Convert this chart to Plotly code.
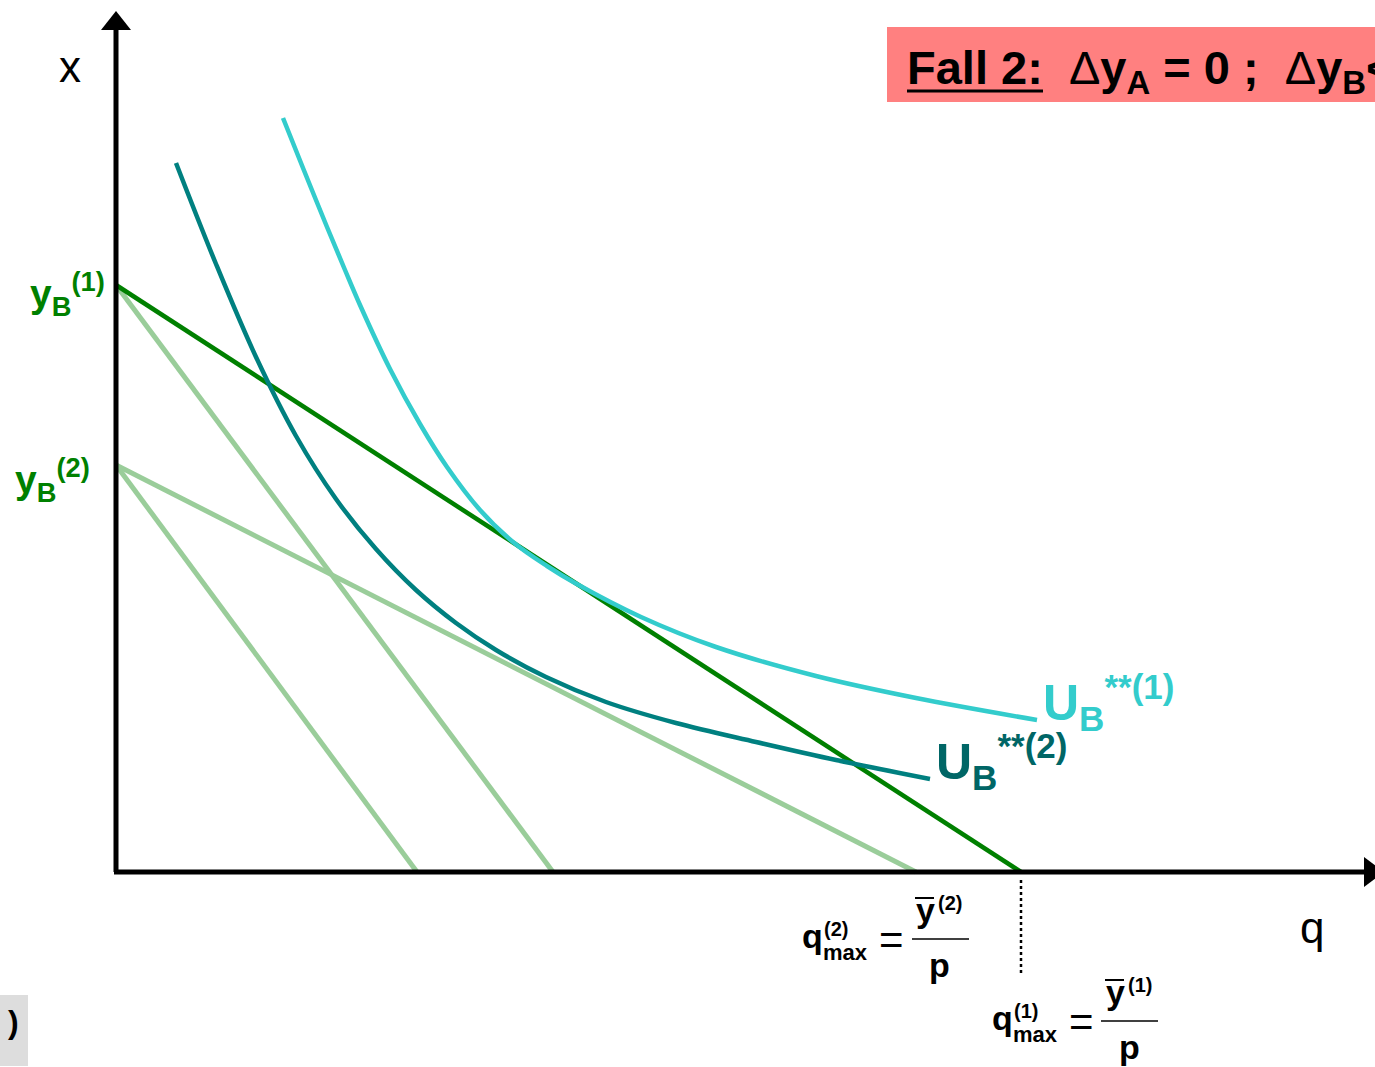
import plotly.graph_objects as go

# ---------------- data (chart units: q horizontally, x vertically) ----------------
# budget lines: intercept on x-axis (vertical) and on q-axis (horizontal)
budget_names = ["B1 (new price)", "B1 (old price)", "B2 (new price)", "B2 (old price)"]
budget_x_intercepts = [5.87, 5.87, 4.07, 4.07]
budget_q_intercepts = [9.05, 4.37, 8.00, 3.01]

# indifference curve U_B**(1)
u1_q = [1.67, 1.87, 2.11, 2.29, 2.44, 2.74, 3.04, 3.31, 3.64, 3.97, 4.31, 4.59, 5.25, 6.00, 7.00, 8.00, 9.21]
u1_x = [7.54, 7.04, 6.45, 6.02, 5.67, 5.03, 4.48, 4.05, 3.62, 3.30, 3.06, 2.89, 2.55, 2.25, 1.96, 1.74, 1.52]

# indifference curve U_B**(2)
u2_q = [0.60, 1.00, 1.40, 1.80, 2.20, 2.60, 3.00, 3.40, 3.80, 4.30, 4.90, 5.60, 6.40, 7.20, 8.14]
u2_x = [7.09, 6.08, 5.15, 4.36, 3.73, 3.23, 2.82, 2.49, 2.22, 1.95, 1.70, 1.49, 1.30, 1.12, 0.93]

# ---------------- layout helpers ----------------
W, H = 1375, 1067
OX, OY = 116, 872      # pixel position of the origin
S = 100.0              # pixels per unit


def P(px, py):
    return (px - OX) / S, (OY - py) / S


x_lo, y_hi = P(0, 0)
x_hi, y_lo = P(W, H)

DARK_GREEN = "#008000"
LIGHT_GREEN = "#9ACD9A"
CYAN = "#33CCCC"
TEAL = "#008080"
TEAL_TXT = "#006666"
FONT = "Arial, Liberation Sans, sans-serif"

fig = go.Figure()

# light budget lines first, dark one on top
order = [1, 2, 3, 0]
for i in order:
    col = DARK_GREEN if i == 0 else LIGHT_GREEN
    fig.add_trace(go.Scatter(
        x=[0, budget_q_intercepts[i]], y=[budget_x_intercepts[i], 0],
        mode="lines", line=dict(color=col, width=4.5 if i == 0 else 5),
        name=budget_names[i], hoverinfo="skip"))

fig.add_trace(go.Scatter(x=u1_q, y=u1_x, mode="lines",
                         line=dict(color=CYAN, width=4.5, shape="spline", smoothing=1.0),
                         name="U_B**(1)", hoverinfo="skip"))
fig.add_trace(go.Scatter(x=u2_q, y=u2_x, mode="lines",
                         line=dict(color=TEAL, width=4.5, shape="spline", smoothing=1.0),
                         name="U_B**(2)", hoverinfo="skip"))

shapes = []
# axes
ax_top = P(OX, 26)[1]
ax_right = P(1366, OY)[0]
shapes.append(dict(type="line", xref="x", yref="y", x0=0, y0=0, x1=0, y1=ax_top,
                   line=dict(color="black", width=5), layer="above"))
shapes.append(dict(type="line", xref="x", yref="y", x0=-0.02, y0=0, x1=ax_right, y1=0,
                   line=dict(color="black", width=5), layer="above"))
# arrowheads
t = P(OX, 11); b1 = P(OX - 15, 30); b2 = P(OX + 15, 30)
shapes.append(dict(type="path", xref="x", yref="y",
                   path=f"M {t[0]},{t[1]} L {b1[0]},{b1[1]} L {b2[0]},{b2[1]} Z",
                   fillcolor="black", line=dict(color="black", width=0), layer="above"))
t = P(1384, OY); b1 = P(1364, OY - 15); b2 = P(1364, OY + 15)
shapes.append(dict(type="path", xref="x", yref="y",
                   path=f"M {t[0]},{t[1]} L {b1[0]},{b1[1]} L {b2[0]},{b2[1]} Z",
                   fillcolor="black", line=dict(color="black", width=0), layer="above"))
# dotted drop line at q_max(1)
shapes.append(dict(type="line", xref="x", yref="y",
                   x0=budget_q_intercepts[0], y0=P(0, 880)[1],
                   x1=budget_q_intercepts[0], y1=P(0, 973)[1],
                   line=dict(color="black", width=2.5, dash="dot")))

# title box
a = P(887, 27); c = P(1380, 102)
shapes.append(dict(type="rect", xref="x", yref="y", x0=a[0], y0=a[1], x1=c[0], y1=c[1],
                   fillcolor="#FF8080", line=dict(width=0), layer="below"))
a = P(907, 91); c = P(1043, 91)
shapes.append(dict(type="line", xref="x", yref="y", x0=a[0], y0=a[1], x1=c[0], y1=c[1],
                   line=dict(color="black", width=3), layer="above"))
# grey box bottom-left
a = P(0, 995); c = P(28, 1066)
shapes.append(dict(type="rect", xref="x", yref="y", x0=a[0], y0=a[1], x1=c[0], y1=c[1],
                   fillcolor="#DDDDDD", line=dict(width=0), layer="below"))

# fraction bars and overlines
for (x0, y0, x1, y1, w) in [(912, 939, 969, 939, 1.5), (915, 898, 934, 898, 2),
                             (1101, 1021, 1158, 1021, 1.5), (1105, 980, 1124, 980, 2)]:
    a = P(x0, y0); c = P(x1, y1)
    shapes.append(dict(type="line", xref="x", yref="y", x0=a[0], y0=a[1], x1=c[0], y1=c[1],
                       line=dict(color="black", width=w)))

annotations = []


def T(text, px, py, size, color="black", xanchor="center", bold=False):
    q, x = P(px, py)
    if bold:
        text = "<b>" + text + "</b>"
    annotations.append(dict(text=text, x=q, y=x, xref="x", yref="y", showarrow=False,
                            xanchor=xanchor, yanchor="middle",
                            font=dict(family=FONT, size=size, color=color)))


NB = "\u00a0"
T("x", 70, 66, 44)
T("q", 1312, 927, 44)
T(f"<b>Fall 2:{NB}{NB}</b>Δ<b>y<sub>A</sub> = 0 ;{NB}{NB}</b>Δ<b>y<sub>B</sub>&lt;0</b>",
  905, 71, 47, xanchor="left")
T("y<sub>B</sub><sup>(1)</sup>", 107, 294, 39, DARK_GREEN, xanchor="right", bold=True)
T("y<sub>B</sub><sup>(2)</sup>", 92, 480, 39, DARK_GREEN, xanchor="right", bold=True)
T("U<sub>B</sub><sup>**(1)</sup>", 1041, 702, 50, CYAN, xanchor="left", bold=True)
T("U<sub>B</sub><sup>**(2)</sup>", 934, 761, 50, TEAL_TXT, xanchor="left", bold=True)
T(")", 13, 1022, 32, bold=True)

# q_max formulas
for (dx, dy, k) in [(0, 0, "2"), (190, 82, "1")]:
    T("q", 800 + dx, 936 + dy, 34, xanchor="left", bold=True)
    T(f"({k})", 822 + dx, 929 + dy, 20, xanchor="left", bold=True)
    T("max", 821 + dx, 952 + dy, 22, xanchor="left", bold=True)
    T("=", 891 + dx, 939 + dy, 42)
    T("y", 925 + dx, 910 + dy, 34, bold=True)
    T(f"({k})", 936 + dx, 903 + dy, 20, xanchor="left", bold=True)
    T("p", 939 + dx, 965 + dy, 34, bold=True)

fig.update_layout(
    width=W, height=H, margin=dict(l=0, r=0, t=0, b=0, pad=0),
    paper_bgcolor="white", plot_bgcolor="white", showlegend=False,
    xaxis=dict(range=[x_lo, x_hi], visible=False, fixedrange=True),
    yaxis=dict(range=[y_lo, y_hi], visible=False, fixedrange=True),
    shapes=shapes, annotations=annotations,
)

fig.write_html("out.html", config={"displayModeBar": False},
               post_script="document.body.style.margin='0';document.body.style.overflow='hidden';")
